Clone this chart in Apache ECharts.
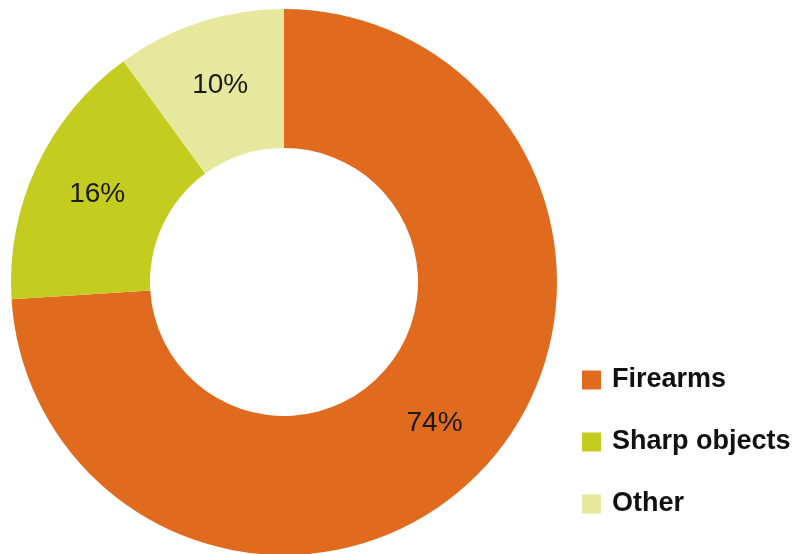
<!DOCTYPE html>
<html><head><meta charset="utf-8">
<script src="https://cdn.jsdelivr.net/npm/echarts@6/dist/echarts.min.js"></script>
<style>html,body{margin:0;padding:0;background:#fff}#c{width:802px;height:554px}</style>
</head><body><div id="c"></div>
<script>
const categories = ['Firearms', 'Sharp objects', 'Other'];
const values = [74, 16, 10];
const colors = ['#E06B1F', '#C3CC1F', '#E6E89E'];

const chart = echarts.init(document.getElementById('c'));
chart.setOption({
  animation: false,
  color: colors,
  legend: {
    orient: 'vertical',
    left: 577,
    top: 360,
    itemWidth: 19,
    itemHeight: 19,
    itemGap: 32,
    icon: 'rect',
    textStyle: { fontFamily: 'Liberation Sans', fontWeight: 'bold', fontSize: 27, color: '#111', lineHeight: 30, padding: [0,0,0,6] },
    data: categories
  },
  series: [{
    type: 'pie',
    center: [284, 282],
    radius: [134, 273],
    startAngle: 90,
    clockwise: true,
    avoidLabelOverlap: false,
    label: {
      show: true,
      position: 'inside',
      formatter: '{c}%',
      fontFamily: 'Liberation Sans',
      fontSize: 28,
      color: '#1a1a1a'
    },
    labelLine: { show: false },
    emphasis: { disabled: true },
    data: categories.map((n, i) => ({ name: n, value: values[i] }))
  }]
});
</script></body></html>
